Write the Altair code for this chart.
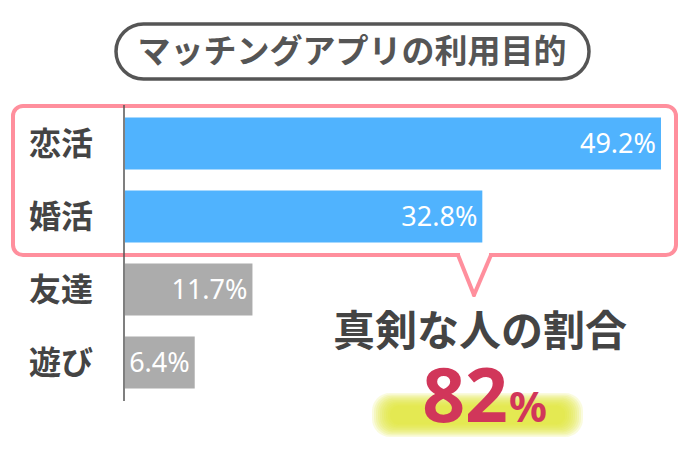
import altair as alt
import pandas as pd

categories = ["恋活", "婚活", "友達", "遊び"]
values = [49.2, 32.8, 11.7, 6.4]
labels = ["49.2%", "32.8%", "11.7%", "6.4%"]
colors = ["#50b3fe", "#50b3fe", "#acacac", "#acacac"]

title_text = "マッチングアプリの利用目的"
callout_text = "真剣な人の割合"
callout_value = "82"
callout_unit = "%"

df = pd.DataFrame({"cat": categories, "val": values, "lab": labels, "col": colors})
one = pd.DataFrame({"a": [0]})

JP = "Noto Sans CJK JP"
PINK = "#ff8f9d"

yscale = alt.Scale(domain=categories, range=[107, 399], paddingInner=0.29, paddingOuter=0.145)
xscale = alt.Scale(domain=[0, 50], range=[125, 669.7])

base = alt.Chart(df)

bars = base.mark_bar().encode(
    y=alt.Y("cat:N", scale=yscale, axis=None, sort=categories),
    x=alt.X("val:Q", scale=xscale, axis=None),
    x2=alt.value(125),
    color=alt.Color("col:N", scale=None),
)

bar_text = base.mark_text(align="right", baseline="middle", dx=-5, dy=1,
                          font="Noto Sans", fontSize=27, color="white").encode(
    y=alt.Y("cat:N", scale=yscale, axis=None, sort=categories),
    x=alt.X("val:Q", scale=xscale, axis=None),
    text="lab:N",
)

cat_text = base.mark_text(align="center", baseline="middle", font=JP, fontSize=32,
                          fontWeight="bold", color="#444444", dy=1).encode(
    y=alt.Y("cat:N", scale=yscale, axis=None, sort=categories),
    x=alt.value(61),
    text="cat:N",
)

axis_line = alt.Chart(one).mark_rule(color="#555555", strokeWidth=1.5).encode(
    x=alt.value(124), y=alt.value(105), y2=alt.value(401))

# title pill
title_box = alt.Chart(one).mark_rect(fill="white", stroke="#555555", strokeWidth=3.5,
                                     cornerRadius=28).encode(
    x=alt.value(116), x2=alt.value(589), y=alt.value(24), y2=alt.value(79))
title = alt.Chart(one).mark_text(text=title_text, font=JP, fontSize=33, fontWeight="bold",
                                 color="#555555", align="center", baseline="middle").encode(
    x=alt.value(352), y=alt.value(53))

# pink callout box
pink_box = alt.Chart(one).mark_rect(fill=None, stroke=PINK, strokeWidth=4,
                                    cornerRadius=10).encode(
    x=alt.value(13), x2=alt.value(676), y=alt.value(106), y2=alt.value(255))
gap = alt.Chart(one).mark_rect(fill="white").encode(
    x=alt.value(460), x2=alt.value(489), y=alt.value(252), y2=alt.value(258))
ptr1 = alt.Chart(one).mark_rule(color=PINK, strokeWidth=4, strokeCap="round").encode(
    x=alt.value(458), y=alt.value(255), x2=alt.value(474), y2=alt.value(295))
ptr2 = alt.Chart(one).mark_rule(color=PINK, strokeWidth=4, strokeCap="round").encode(
    x=alt.value(491), y=alt.value(255), x2=alt.value(474), y2=alt.value(295))

callout = alt.Chart(one).mark_text(text=callout_text, font=JP, fontSize=42, fontWeight="bold",
                                   color="#444444", align="center", baseline="middle").encode(
    x=alt.value(480), y=alt.value(333))

# yellow glow (stacked soft layers)
glows = []
for i in range(10):
    inset = i * 2
    glows.append(alt.Chart(one).mark_rect(fill="#e2e630", opacity=0.16, cornerRadius=18 - i).encode(
        x=alt.value(372 + inset), x2=alt.value(583 - inset),
        y=alt.value(393 + inset * 0.7), y2=alt.value(437 - inset * 0.7)))

num = alt.Chart(one).mark_text(text=callout_value, font="Noto Sans", fontSize=75, fontWeight="bold",
                               color="#d1365a", align="right", baseline="alphabetic").encode(
    x=alt.value(508), y=alt.value(422))
unit = alt.Chart(one).mark_text(text=callout_unit, font="Noto Sans", fontSize=42, fontWeight="bold",
                                color="#d1365a", align="left", baseline="alphabetic").encode(
    x=alt.value(509), y=alt.value(422))

chart = alt.layer(
    title_box, title, pink_box, gap, ptr1, ptr2, axis_line, bars, bar_text, cat_text,
    callout, *glows, num, unit
).properties(
    width=690, height=462, padding=0,
    autosize=alt.AutoSizeParams(type="none"),
    background="white",
).configure_view(stroke=None)

chart.save("out.html", embed_options={"renderer": "svg", "actions": False})
